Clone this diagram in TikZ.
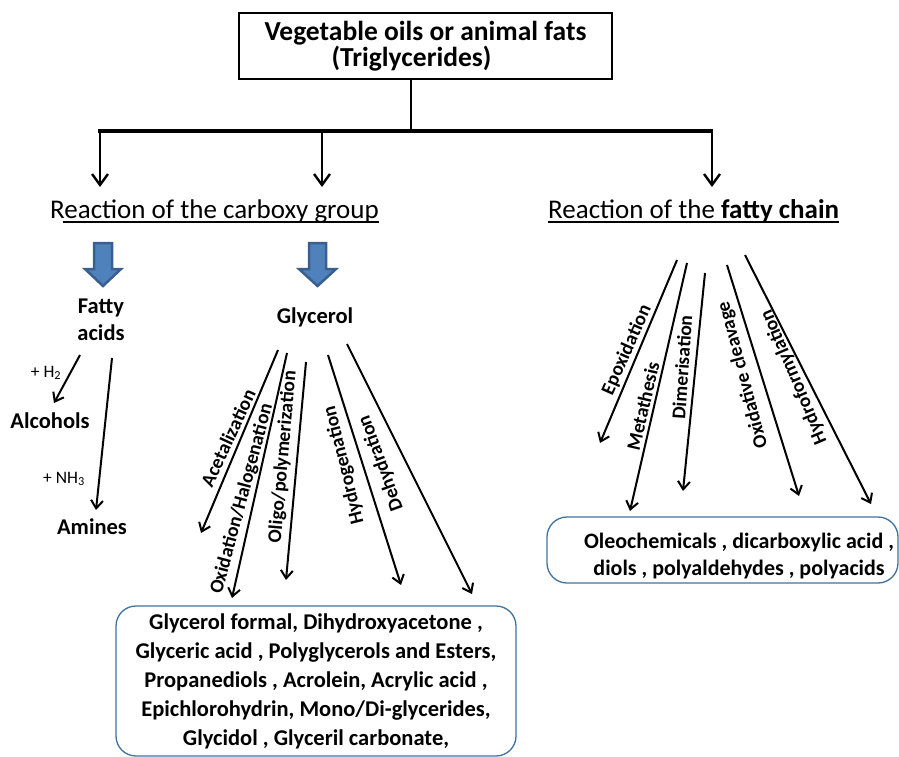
\documentclass[tikz,border=0pt]{standalone}
\usepackage{fontspec}
\setmainfont{Carlito}
\usetikzlibrary{arrows.meta}
\definecolor{boxblue}{HTML}{41719C}
\definecolor{arrfill}{HTML}{4F81BD}
\definecolor{arrdraw}{HTML}{3A5F8F}
\begin{document}
\begin{tikzpicture}[x=1pt,y=-1pt,
  mainarrow/.style={line width=2.4pt,-{Straight Barb[length=11pt,width=16pt,line width=2.4pt]}},
  fanarrow/.style={line width=2pt,-{Straight Barb[length=8pt,width=12pt,line width=2pt]}},
  boldtext/.style={font=\fontsize{22.5}{27}\selectfont\bfseries,inner sep=0pt},
  lbl/.style={font=\fontsize{19.5}{22}\selectfont\bfseries,inner sep=0pt},
  heading/.style={font=\fontsize{27}{30}\selectfont,inner sep=0pt,anchor=base west},
  smalltext/.style={font=\fontsize{17.5}{20}\selectfont,inner sep=0pt},
  blockarrow/.style={fill=arrfill,draw=arrdraw,line width=2.5pt,line join=miter},
  resultbox/.style={draw=boxblue,line width=1.3pt,rounded corners=20pt}
]
\useasboundingbox (0,0) rectangle (899,757);

% top box
\node[draw,line width=2.5pt,minimum width=373pt,minimum height=66pt,inner sep=0pt,
      align=center,font=\fontsize{27.5}{26}\selectfont\bfseries] (top) at (425.5,46)
  {Vegetable oils or animal fats\\\hspace*{-28pt}(Triglycerides)};

% hub and bar
\coordinate (hub) at (411,131);
\coordinate (barL) at (98,131);
\coordinate (barR) at (713,131);
\draw[line width=2.5pt] (top.south -| hub) -- (hub);
\draw[line width=4.5pt] (barL) -- (barR);
\coordinate (s1) at (100,131);
\coordinate (s2) at (322,131);
\coordinate (s3) at (712,131);
\coordinate (e1) at (100,187);
\coordinate (e2) at (322,187);
\coordinate (e3) at (712,187);
\draw[mainarrow] (s1) -- (e1);
\draw[mainarrow] (s2) -- (e2);
\draw[mainarrow] (s3) -- (e3);

% headings
\node[heading] (carb) at (50,218) {Reaction of the carboxy group};
\node[heading] (fatty) at (548,218) {Reaction of the \textbf{fatty chain}};
\draw[line width=2pt] ([xshift=13pt,yshift=-4pt]carb.base west) -- ([yshift=-4pt]carb.base east);
\draw[line width=2pt] ([yshift=-4pt]fatty.base west) -- ([yshift=-4pt]fatty.base east);

% block arrows
\draw[blockarrow] (94,243) -- (112,243) -- (112,269) -- (121,269) -- (103,286) -- (85,269) -- (94,269) -- cycle;
\draw[blockarrow] (309,243) -- (326,243) -- (326,269) -- (336,269) -- (317.5,286) -- (299,269) -- (309,269) -- cycle;

% fatty acids branch
\node[boldtext,align=center] (fa) at (101,320) {Fatty\\acids};
\node[boldtext] (alc) at (50,421) {Alcohols};
\node[boldtext] (am) at (92,527) {Amines};
\coordinate (fa1) at (80,355);
\coordinate (fa2) at (112,358);
\coordinate (alcT) at (54,403);
\coordinate (amT) at (96,510);
\draw[fanarrow] (fa1) -- (alcT);
\draw[fanarrow] (fa2) -- (amT);
\node[smalltext] (h2) at (46,373) {+ H\textsubscript{2}};
\node[smalltext] (nh3) at (64,479) {+ NH\textsubscript{3}};

% glycerol branch
\node[boldtext] (gly) at (315,317) {Glycerol};
\coordinate (g1s) at (278,350); \coordinate (g1e) at (201,533);
\coordinate (g2s) at (287,353); \coordinate (g2e) at (232,598);
\coordinate (g3s) at (306,362); \coordinate (g3e) at (286,580);
\coordinate (g4s) at (328,355); \coordinate (g4e) at (401,585);
\coordinate (g5s) at (347,344); \coordinate (g5e) at (472,594);
\draw[fanarrow] (g1s) -- (g1e);
\draw[fanarrow] (g2s) -- (g2e);
\draw[fanarrow] (g3s) -- (g3e);
\draw[fanarrow] (g4s) -- (g4e);
\draw[fanarrow] (g5s) -- (g5e);
\node[lbl,rotate=65] (l1) at (228,438) {Acetalization};
\node[lbl,rotate=75] (l2) at (242,499) {Oxidation/Halogenation};
\node[lbl,rotate=85] (l3) at (283,457) {Oligo/polymerization};
\node[lbl,rotate=104] (l4) at (344,465) {Hydrogenation};
\node[lbl,rotate=110] (l5) at (381,463) {Dehydration};

\node[resultbox,minimum width=400pt,minimum height=150pt,align=center,
      font=\fontsize{22.5}{29}\selectfont\bfseries] (gbox) at (316,681)
  {Glycerol formal, Dihydroxyacetone ,\\
   Glyceric acid , Polyglycerols and Esters,\\
   Propanediols , Acrolein, Acrylic acid ,\\
   Epichlorohydrin, Mono/Di-glycerides,\\
   Glycidol , Glyceril carbonate,};

% fatty chain branch
\coordinate (f1s) at (677,260); \coordinate (f1e) at (600,443);
\coordinate (f2s) at (687,263); \coordinate (f2e) at (630,511);
\coordinate (f3s) at (705,273); \coordinate (f3e) at (683,491);
\coordinate (f4s) at (727,265); \coordinate (f4e) at (799,496);
\coordinate (f5s) at (745,255); \coordinate (f5e) at (871,504);
\draw[fanarrow] (f1s) -- (f1e);
\draw[fanarrow] (f2s) -- (f2e);
\draw[fanarrow] (f3s) -- (f3e);
\draw[fanarrow] (f4s) -- (f4e);
\draw[fanarrow] (f5s) -- (f5e);
\node[lbl,rotate=66] (m1) at (627,350) {Epoxidation};
\node[lbl,rotate=77] (m2) at (643,406) {Metathesis};
\node[lbl,rotate=86] (m3) at (682,367) {Dimerisation};
\node[lbl,rotate=105] (m4) at (743,375) {Oxidative cleavage};
\node[lbl,rotate=113] (m5) at (794,377) {Hydroformylation};

\node[resultbox,minimum width=351pt,minimum height=66pt] (fbox) at (722.5,550) {};
\node[font=\fontsize{22}{27}\selectfont\bfseries,align=center,inner sep=0pt] (ftext) at (739,556)
  {Oleochemicals , dicarboxylic acid ,\\diols , polyaldehydes , polyacids};
\end{tikzpicture}
\end{document}
